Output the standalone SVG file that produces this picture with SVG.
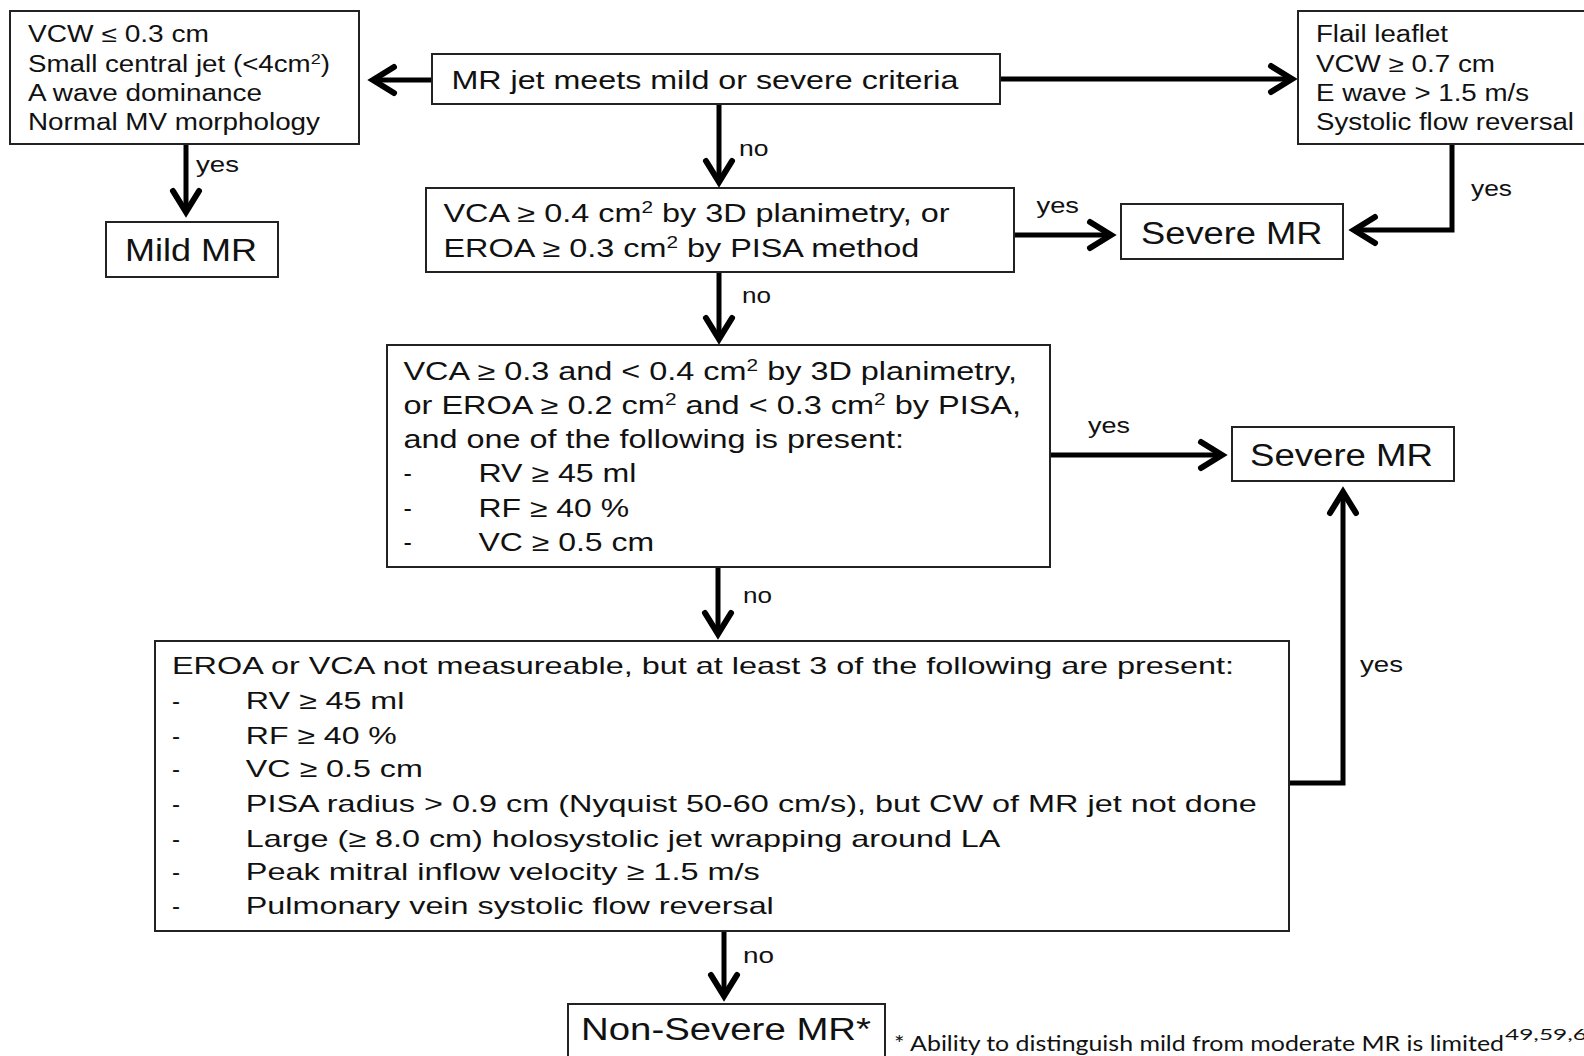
<svg xmlns="http://www.w3.org/2000/svg" width="1584" height="1056" viewBox="0 0 1584 1056">
<style>
.box{fill:#fff;stroke:#222;stroke-width:2}
.t{font-family:"Liberation Sans",Arial,sans-serif;fill:#111}
.s23{font-size:23px}
.s24{font-size:24px}
.s25{font-size:25px}
.s26{font-size:26px}
.s31{font-size:31px}
.lbl{font-family:"Liberation Sans",Arial,sans-serif;font-size:22px;fill:#111}
.conn{fill:none;stroke:#000;stroke-width:5;marker-end:url(#ah)}
.foot{font-family:Lato,"Open Sans",sans-serif;font-size:22px;fill:#111}
</style>
<defs>
<marker id="ah" markerUnits="userSpaceOnUse" viewBox="-28 -20 40 40" markerWidth="40" markerHeight="40" refX="0" refY="0" orient="auto">
<path d="M-21,-13 L0,0 L-21,13" fill="none" stroke="#000" stroke-width="6" stroke-linecap="round" stroke-linejoin="miter"/>
</marker>
</defs>
<rect width="1584" height="1056" fill="#fff"/>

<g id="connectors">
<path class="conn" d="M432,80 H373"/>
<path class="conn" d="M1000,79 H1292"/>
<path class="conn" d="M719,104 V182"/>
<path class="conn" d="M186,144 V212"/>
<path class="conn" d="M1452,144 V230 H1354"/>
<path class="conn" d="M1014,235 H1111"/>
<path class="conn" d="M719,272 V339"/>
<path class="conn" d="M1050,455 H1222"/>
<path class="conn" d="M718,567 V634"/>
<path class="conn" d="M1289,783 H1343 V492"/>
<path class="conn" d="M724,931 V996"/>
<text class="lbl" x="196" y="172" textLength="43" lengthAdjust="spacingAndGlyphs">yes</text>
<text class="lbl" x="739" y="156" textLength="29.5" lengthAdjust="spacingAndGlyphs">no</text>
<text class="lbl" x="1471" y="196" textLength="41" lengthAdjust="spacingAndGlyphs">yes</text>
<text class="lbl" x="1036.5" y="213" textLength="42.5" lengthAdjust="spacingAndGlyphs">yes</text>
<text class="lbl" x="742" y="303" textLength="29" lengthAdjust="spacingAndGlyphs">no</text>
<text class="lbl" x="1088" y="433" textLength="42" lengthAdjust="spacingAndGlyphs">yes</text>
<text class="lbl" x="743" y="603" textLength="29" lengthAdjust="spacingAndGlyphs">no</text>
<text class="lbl" x="1360" y="672" textLength="43" lengthAdjust="spacingAndGlyphs">yes</text>
<text class="lbl" x="743" y="963" textLength="31" lengthAdjust="spacingAndGlyphs">no</text>
</g>

<g id="mild-criteria">
<rect class="box" x="10" y="11" width="349" height="133"/>
<text class="t s23" x="28" y="42" textLength="181" lengthAdjust="spacingAndGlyphs">VCW ≤ 0.3 cm</text>
<text class="t s23" x="28" y="72" textLength="302" lengthAdjust="spacingAndGlyphs">Small central jet (&lt;4cm<tspan dy="-8" font-size="15">2</tspan><tspan dy="8">)</tspan></text>
<text class="t s23" x="28" y="101" textLength="234" lengthAdjust="spacingAndGlyphs">A wave dominance</text>
<text class="t s23" x="28" y="130" textLength="292" lengthAdjust="spacingAndGlyphs">Normal MV morphology</text>
</g>

<g id="mr-jet">
<rect class="box" x="432" y="54" width="568" height="50"/>
<text class="t s26" x="451.4" y="88.7" textLength="507" lengthAdjust="spacingAndGlyphs">MR jet meets mild or severe criteria</text>
</g>

<g id="severe-criteria">
<rect class="box" x="1298" y="11" width="290" height="133"/>
<text class="t s23" x="1316" y="42" textLength="132" lengthAdjust="spacingAndGlyphs">Flail leaflet</text>
<text class="t s23" x="1316" y="72" textLength="179" lengthAdjust="spacingAndGlyphs">VCW ≥ 0.7 cm</text>
<text class="t s23" x="1316" y="100.5" textLength="213" lengthAdjust="spacingAndGlyphs">E wave &gt; 1.5 m/s</text>
<text class="t s23" x="1316" y="129.5" textLength="258" lengthAdjust="spacingAndGlyphs">Systolic flow reversal</text>
</g>

<g id="mild-mr">
<rect class="box" x="106" y="222" width="172" height="55"/>
<text class="t s31" x="125" y="261" textLength="132" lengthAdjust="spacingAndGlyphs">Mild MR</text>
</g>

<g id="vca-eroa">
<rect class="box" x="426" y="188" width="588" height="84"/>
<text class="t s25" x="443.5" y="221.7" textLength="506" lengthAdjust="spacingAndGlyphs">VCA ≥ 0.4 cm<tspan dy="-9" font-size="16">2</tspan><tspan dy="9"> by 3D planimetry, or</tspan></text>
<text class="t s25" x="443.5" y="256.7" textLength="475.7" lengthAdjust="spacingAndGlyphs">EROA ≥ 0.3 cm<tspan dy="-9" font-size="16">2</tspan><tspan dy="9"> by PISA method</tspan></text>
</g>

<g id="severe-mr-1">
<rect class="box" x="1121" y="204" width="222" height="55"/>
<text class="t s31" x="1141" y="244" textLength="181.5" lengthAdjust="spacingAndGlyphs">Severe MR</text>
</g>

<g id="intermediate">
<rect class="box" x="387" y="345" width="663" height="222"/>
<text class="t s25" x="403.5" y="380" textLength="613.5" lengthAdjust="spacingAndGlyphs">VCA ≥ 0.3 and &lt; 0.4 cm<tspan dy="-9" font-size="16">2</tspan><tspan dy="9"> by 3D planimetry,</tspan></text>
<text class="t s25" x="403.5" y="414" textLength="617.5" lengthAdjust="spacingAndGlyphs">or EROA ≥ 0.2 cm<tspan dy="-9" font-size="16">2</tspan><tspan dy="9"> and &lt; 0.3 cm</tspan><tspan dy="-9" font-size="16">2</tspan><tspan dy="9"> by PISA,</tspan></text>
<text class="t s25" x="403.5" y="448.3" textLength="500.5" lengthAdjust="spacingAndGlyphs">and one of the following is present:</text>
<text class="t s25" x="403.5" y="482.3">-</text>
<text class="t s25" x="478.5" y="482.3" textLength="158" lengthAdjust="spacingAndGlyphs">RV ≥ 45 ml</text>
<text class="t s25" x="403.5" y="516.7">-</text>
<text class="t s25" x="478.5" y="516.7" textLength="150.5" lengthAdjust="spacingAndGlyphs">RF ≥ 40 %</text>
<text class="t s25" x="403.5" y="550.7">-</text>
<text class="t s25" x="478.5" y="550.7" textLength="175.5" lengthAdjust="spacingAndGlyphs">VC ≥ 0.5 cm</text>
</g>

<g id="severe-mr-2">
<rect class="box" x="1232" y="427" width="222" height="54"/>
<text class="t s31" x="1250" y="465.5" textLength="183" lengthAdjust="spacingAndGlyphs">Severe MR</text>
</g>

<g id="not-measureable">
<rect class="box" x="155" y="641" width="1134" height="290"/>
<text class="t s24" x="172" y="674" textLength="1062" lengthAdjust="spacingAndGlyphs">EROA or VCA not measureable, but at least 3 of the following are present:</text>
<text class="t s24" x="172" y="709.3">-</text>
<text class="t s24" x="245.8" y="709.3" textLength="158.5" lengthAdjust="spacingAndGlyphs">RV ≥ 45 ml</text>
<text class="t s24" x="172" y="744">-</text>
<text class="t s24" x="245.8" y="744" textLength="151" lengthAdjust="spacingAndGlyphs">RF ≥ 40 %</text>
<text class="t s24" x="172" y="777.3">-</text>
<text class="t s24" x="245.8" y="777.3" textLength="177" lengthAdjust="spacingAndGlyphs">VC ≥ 0.5 cm</text>
<text class="t s24" x="172" y="812.3">-</text>
<text class="t s24" x="245.8" y="812.3" textLength="1011" lengthAdjust="spacingAndGlyphs">PISA radius &gt; 0.9 cm (Nyquist 50-60 cm/s), but CW of MR jet not done</text>
<text class="t s24" x="172" y="846.7">-</text>
<text class="t s24" x="245.8" y="846.7" textLength="754.6" lengthAdjust="spacingAndGlyphs">Large (≥ 8.0 cm) holosystolic jet wrapping around LA</text>
<text class="t s24" x="172" y="880">-</text>
<text class="t s24" x="245.8" y="880" textLength="514" lengthAdjust="spacingAndGlyphs">Peak mitral inflow velocity ≥ 1.5 m/s</text>
<text class="t s24" x="172" y="914.3">-</text>
<text class="t s24" x="245.8" y="914.3" textLength="528" lengthAdjust="spacingAndGlyphs">Pulmonary vein systolic flow reversal</text>
</g>

<g id="non-severe">
<rect class="box" x="568" y="1004" width="317" height="60"/>
<text class="t s31" x="581" y="1040" textLength="290" lengthAdjust="spacingAndGlyphs">Non-Severe MR*</text>
</g>

<g id="footnote">
<text class="foot" x="894" y="1051" textLength="610" lengthAdjust="spacingAndGlyphs">* Ability to distinguish mild from moderate MR is limited</text>
<text class="foot" x="1505" y="1040" style="font-size:16px" textLength="82" lengthAdjust="spacingAndGlyphs">49,59,6</text>
</g>
</svg>
